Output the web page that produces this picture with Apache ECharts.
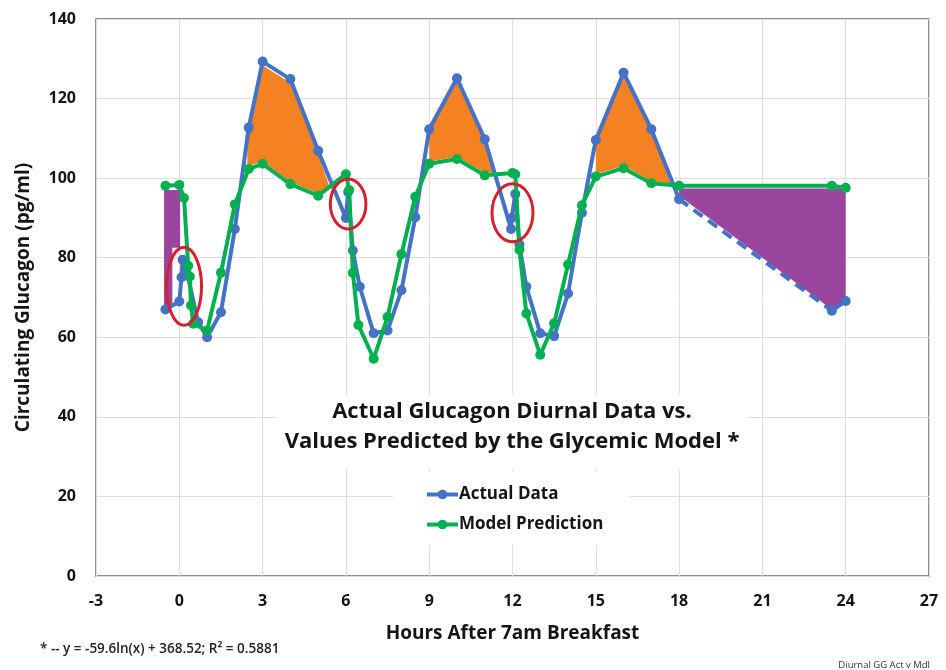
<!DOCTYPE html>
<html>
<head>
<meta charset="utf-8">
<script src="https://cdn.jsdelivr.net/npm/echarts@6/dist/echarts.min.js"></script>
<style>html,body{margin:0;padding:0;background:#fff}#c{width:946px;height:670px}</style>
</head>
<body>
<div id="c"></div>
<script>
// ---- data ----
const actualHours = [-0.5, 0, 0.08, 0.12, 0.3, 0.68, 1, 1.5, 2, 2.5, 3, 4, 5, 6, 6.08, 6.25, 6.5, 7, 7.5, 8, 8.5, 9, 10, 11, 11.95, 11.97, 12.1, 12.25, 12.5, 13, 13.5, 14, 14.5, 15, 16, 17, 18];
const actualValues = [67, 69, 75.1, 79.5, 75.5, 63.8, 60, 66.3, 87.2, 112.7, 129.3, 124.9, 106.9, 90, 96.5, 81.8, 72.7, 61, 61.7, 71.8, 90.2, 112.3, 125.1, 109.8, 87.2, 90, 96, 83.3, 72.7, 61, 60.3, 71, 91.3, 109.6, 126.5, 112.3, 94.7];
const actualGapHours = [18, 23.5];
const actualGapValues = [94.7, 66.7];
const actualTailHours = [23.5, 24];
const actualTailValues = [66.7, 69.1];

const modelHours = [-0.5, 0, 0.17, 0.32, 0.38, 0.42, 0.5, 1, 1.5, 2, 2.5, 3, 4, 5, 6, 6.12, 6.25, 6.45, 7, 7.5, 8, 8.5, 9, 10, 11, 12, 12.1, 12.25, 12.5, 13, 13.5, 14, 14.5, 15, 16, 17, 18, 23.5, 24];
const modelValues = [98.1, 98.3, 95, 78, 75.3, 68, 63.4, 61.7, 76.2, 93.4, 102.3, 103.6, 98.5, 95.6, 101, 97, 76.2, 63.1, 54.6, 65.1, 80.9, 95.3, 103.6, 104.8, 100.7, 101.3, 101, 82, 66, 55.6, 63.5, 78.3, 93.2, 100.4, 102.5, 98.7, 98.1, 98.1, 97.6];

const purpleAreaStart = [[-0.55, 97], [0.03, 97], [0.03, 82.5], [-0.25, 82.5], [-0.25, 68], [-0.55, 68]];
const purpleAreaEnd = [[18, 97.4], [24, 97.4], [24, 68.8], [23.5, 67], [18, 95.6]];
const orangeArea1 = [[2.45, 112.3], [3, 128.3], [4, 124], [5, 106], [5.4, 98], [5, 96.2], [4, 99.1], [3, 104.2], [2.45, 103]];
const orangeArea2 = [[9, 111.8], [10, 124.2], [11, 109.2], [11.3, 101.5], [11, 101.3], [10, 105.4], [9, 104.2]];
const orangeArea3 = [[15, 109], [16, 125.5], [17, 111.8], [17.7, 98.6], [17, 99.3], [16, 103.1], [15, 101]];

const ellipseCenters = [[0.17, 72.8], [6.08, 93.5], [12.0, 91.3]];
const ellipseRadiiPx = [[17.5, 39], [17.8, 25], [20.5, 29]];

const xTicks = {min: -3, max: 27, interval: 3};
const yTicks = {min: 0, max: 140, interval: 20};

const zip = (a, b) => a.map((v, i) => [v, b[i]]);

const BLUE = '#4472C4', GREEN = '#00B050', ORANGE = '#F58220', PURPLE = '#9A469E', RED = '#D42030';
const FONT = '"Open Sans"';
const INK = '#151515';

function polySeries(points, color) {
  return {
    type: 'custom', z: 1, silent: true, data: points,
    renderItem: function (params, api) {
      if (params.dataIndex !== 0) return;
      return {type: 'polygon', shape: {points: points.map(p => api.coord(p))}, style: {fill: color}};
    }
  };
}

const chart = echarts.init(document.getElementById('c'), null, {renderer: 'canvas'});
chart.setOption({
  animation: false,
  backgroundColor: '#fff',
  textStyle: {fontFamily: FONT},
  grid: {left: 96, right: 17, top: 19, bottom: 94, show: true, borderColor: '#6b6b6b', borderWidth: 1.5},
  xAxis: {
    type: 'value', min: xTicks.min, max: xTicks.max, interval: xTicks.interval,
    name: 'Hours After 7am Breakfast', nameLocation: 'middle', nameGap: 48,
    nameTextStyle: {fontSize: 19, fontWeight: 'bold', color: INK, fontFamily: FONT},
    axisLine: {show: false}, axisTick: {show: false},
    axisLabel: {fontSize: 16, fontWeight: 'bold', color: INK, margin: 17, fontFamily: FONT},
    splitLine: {show: true, lineStyle: {color: '#dedede', width: 1}}
  },
  yAxis: {
    type: 'value', min: yTicks.min, max: yTicks.max, interval: yTicks.interval,
    name: 'Circulating Glucagon (pg/ml)', nameLocation: 'middle', nameGap: 63,
    nameTextStyle: {fontSize: 19, fontWeight: 'bold', color: INK, fontFamily: FONT},
    axisLine: {show: false}, axisTick: {show: false},
    axisLabel: {fontSize: 16, fontWeight: 'bold', color: INK, margin: 20, fontFamily: FONT},
    splitLine: {show: true, lineStyle: {color: '#dedede', width: 1}}
  },
  legend: {
    data: ['Actual Data', 'Model Prediction'],
    orient: 'vertical', left: 393, top: 472,
    padding: [14, 26, 12, 32], backgroundColor: '#fff',
    itemWidth: 31, itemHeight: 12, itemGap: 13,
    lineStyle: {width: 4},
    textStyle: {fontSize: 17, fontWeight: 'bold', color: INK, fontFamily: FONT, padding: [0, 0, 0, -4]}
  },
  graphic: [
    {type: 'text', x: 512, y: 395, z: 100,
     style: {text: 'Actual Glucagon Diurnal Data vs.\nValues Predicted by the Glycemic Model *',
       textAlign: 'center', font: 'bold 22px ' + FONT, lineHeight: 30, fill: INK,
       backgroundColor: '#fff', padding: [2, 8, 12, 8]}},
    {type: 'text', x: 40, y: 642, z: 100,
     style: {text: '* -- y = -59.6ln(x) + 368.52; R² = 0.5881', font: '600 13.5px ' + FONT, fill: '#222'}},
    {type: 'text', x: 930, y: 660, z: 100,
     style: {text: 'Diurnal GG Act v Mdl', textAlign: 'right', font: '9.5px ' + FONT, fill: '#333'}}
  ],
  series: [
    polySeries(purpleAreaStart, PURPLE),
    polySeries(purpleAreaEnd, PURPLE),
    polySeries(orangeArea1, ORANGE),
    polySeries(orangeArea2, ORANGE),
    polySeries(orangeArea3, ORANGE),
    {name: 'Actual Data', type: 'line', z: 3, data: zip(actualHours, actualValues),
     symbol: 'circle', symbolSize: 10, lineStyle: {color: BLUE, width: 4}, itemStyle: {color: BLUE}},
    {name: 'Actual Data', type: 'line', z: 3, data: zip(actualGapHours, actualGapValues),
     symbol: 'none', lineStyle: {color: BLUE, width: 4, type: [11, 7]}, itemStyle: {color: BLUE}},
    {name: 'Actual Data', type: 'line', z: 3, data: zip(actualTailHours, actualTailValues),
     symbol: 'circle', symbolSize: 10, lineStyle: {color: BLUE, width: 4}, itemStyle: {color: BLUE}},
    {name: 'Model Prediction', type: 'line', z: 4, data: zip(modelHours, modelValues),
     symbol: 'circle', symbolSize: 10, lineStyle: {color: GREEN, width: 4}, itemStyle: {color: GREEN}},
    {type: 'custom', z: 6, silent: true, data: ellipseCenters,
     renderItem: function (params, api) {
       const c = api.coord([api.value(0), api.value(1)]);
       const r = ellipseRadiiPx[params.dataIndex];
       return {type: 'ellipse', shape: {cx: c[0], cy: c[1], rx: r[0], ry: r[1]},
               style: {fill: 'none', stroke: RED, lineWidth: 3}};
     }}
  ]
});
</script>
</body>
</html>
